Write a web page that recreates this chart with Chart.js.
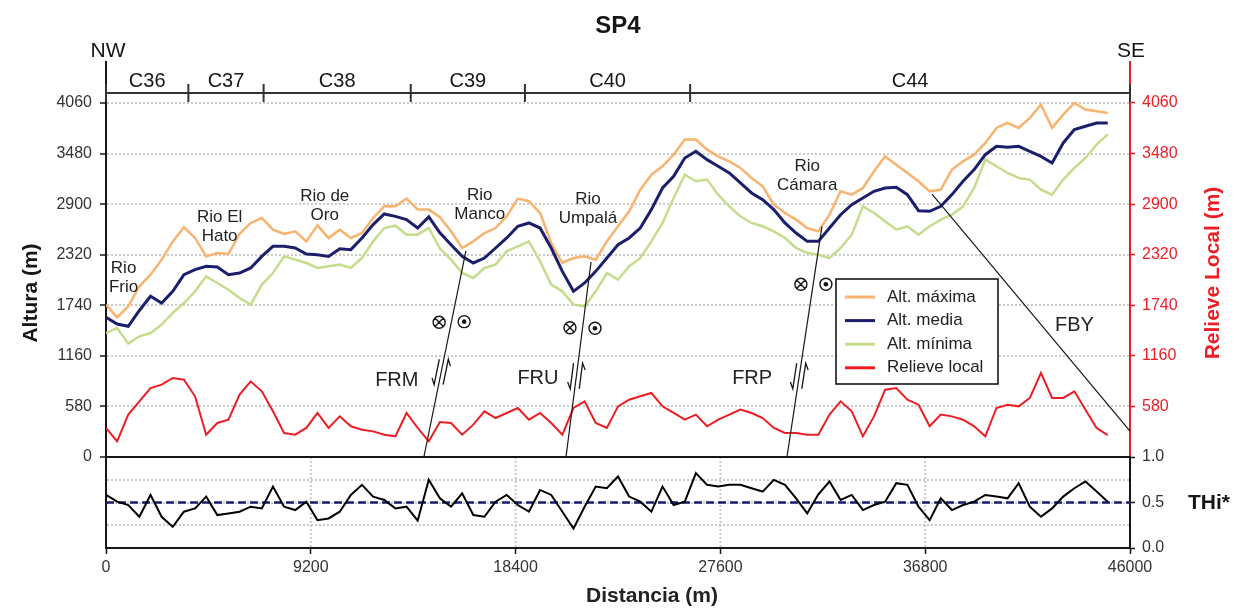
<!DOCTYPE html>
<html>
<head>
<meta charset="utf-8">
<script src="https://cdn.jsdelivr.net/npm/chart.js@4.4.0/dist/chart.umd.min.js"></script>
<style>
  html, body { margin: 0; padding: 0; background: #fff; }
  #wrap { width: 1234px; height: 608px; position: relative; }
</style>
</head>
<body>
<div id="wrap"><canvas id="perfil"></canvas></div>
<script>
// distancia a lo largo del perfil SP4 (m)
var distancia = [0,500,1000,1500,2000,2500,3000,3500,4000,4500,
  5000,5500,6000,6500,7000,7500,8000,8500,9000,9500,
  10000,10500,11000,11500,12000,12500,13000,13500,14000,14500,
  15000,15500,16000,16500,17000,17500,18000,18500,19000,19500,
  20000,20500,21000,21500,22000,22500,23000,23500,24000,24500,
  25000,25500,26000,26500,27000,27500,28000,28500,29000,29500,
  30000,30500,31000,31500,32000,32500,33000,33500,34000,34500,
  35000,35500,36000,36500,37000,37500,38000,38500,39000,39500,
  40000,40500,41000,41500,42000,42500,43000,43500,44000,44500,
  45000];

var altMaxima = [1747,1602,1728,1957,2091,2263,2473,2634,2512,2301,
  2340,2328,2558,2684,2741,2607,2558,2588,2473,2657,
  2512,2607,2512,2569,2741,2875,2875,2963,2837,2837,
  2750,2588,2397,2473,2569,2626,2760,2963,2933,2798,
  2454,2225,2282,2301,2263,2473,2646,2818,3066,3238,
  3334,3467,3640,3640,3525,3448,3391,3315,3200,3104,
  2894,2798,2722,2626,2588,2779,3047,3009,3085,3276,
  3448,3353,3257,3162,3047,3066,3296,3391,3467,3602,
  3774,3831,3774,3888,4041,3774,3927,4060,3984,3965,
  3946];

var altMedia = [1602,1525,1499,1680,1843,1766,1900,2091,2149,2187,
  2179,2091,2110,2168,2301,2416,2416,2397,2328,2320,
  2301,2389,2378,2512,2665,2787,2760,2722,2626,2753,
  2570,2435,2301,2225,2282,2397,2512,2646,2684,2626,
  2397,2129,1900,1996,2129,2282,2435,2512,2626,2837,
  3085,3219,3429,3506,3410,3334,3257,3143,3028,2951,
  2837,2684,2569,2473,2473,2626,2779,2894,2971,3047,
  3085,3093,3009,2825,2818,2875,3009,3162,3296,3467,
  3563,3552,3563,3506,3448,3372,3602,3755,3793,3831,
  3831];

var altMinima = [1422,1480,1300,1384,1422,1518,1652,1766,1900,2072,
  1996,1919,1824,1747,1977,2110,2301,2263,2225,2168,
  2187,2206,2168,2282,2473,2626,2653,2550,2550,2626,
  2390,2263,2110,2053,2168,2206,2359,2416,2473,2244,
  1977,1900,1747,1728,1900,2110,2034,2187,2282,2473,
  2684,2971,3238,3162,3181,3009,2875,2760,2684,2646,
  2588,2512,2397,2339,2320,2282,2397,2550,2875,2798,
  2703,2607,2646,2550,2646,2722,2779,2875,3085,3410,
  3334,3257,3200,3181,3066,3009,3181,3315,3429,3582,
  3700];

var relieveLocal = [333,180,486,638,791,830,906,887,696,256,
  390,428,715,868,753,524,275,256,333,505,
  333,466,352,313,294,256,237,505,333,180,
  400,390,256,371,524,447,505,562,428,505,
  390,256,562,638,390,333,581,657,696,734,
  581,505,428,486,352,428,486,543,505,447,
  333,275,275,256,256,486,638,524,237,466,
  772,791,657,600,352,486,466,428,352,237,
  562,600,581,677,963,677,677,753,543,333,
  250];

var thi = [0.583,0.509,0.472,0.343,0.583,0.343,0.232,0.399,0.435,0.565,
  0.362,0.380,0.399,0.454,0.435,0.675,0.454,0.417,0.509,0.306,
  0.325,0.399,0.583,0.694,0.565,0.528,0.435,0.454,0.300,0.749,
  0.546,0.454,0.601,0.362,0.343,0.509,0.583,0.472,0.399,0.638,
  0.583,0.399,0.214,0.454,0.675,0.657,0.786,0.565,0.509,0.399,
  0.675,0.472,0.509,0.823,0.694,0.675,0.694,0.694,0.657,0.620,
  0.749,0.694,0.546,0.380,0.590,0.731,0.528,0.583,0.417,0.472,
  0.509,0.712,0.694,0.454,0.306,0.546,0.417,0.472,0.509,0.583,
  0.565,0.546,0.712,0.454,0.343,0.435,0.565,0.657,0.731,0.620,
  0.509];

var thiMedio = 0.5;

var alturaTicks = [0,580,1160,1740,2320,2900,3480,4060];
var distTicks = [0,9200,18400,27600,36800,46000];
var thiTicks = [0,0.5,1];
var thiGrid = [0.25,0.5,0.75];

var segmentos = ['C36','C37','C38','C39','C40','C44'];
var limitesSegmentos = [0,3700,7080,13690,18820,26240,46000];

// anotaciones (posiciones en unidades de datos)
var rios = [
  { t: ['Rio', 'Frio'], d: 790, v: 2168 },
  { t: ['Rio El', 'Hato'], d: 5104, v: 2753 },
  { t: ['Rio de', 'Oro'], d: 9826, v: 2993 },
  { t: ['Rio', 'Manco'], d: 16792, v: 3005 },
  { t: ['Rio', 'Umpalá'], d: 21650, v: 2959 },
  { t: ['Rio', 'Cámara'], d: 31498, v: 3337 }
];
var fallas = [
  { n: 'FRM', a: [14280, 0], b: [16168, 2363], et: [13063, 883], fl: 975, cruz: [14965, 1545], punto: [16089, 1552] },
  { n: 'FRU', a: [20664, 0], b: [21788, 2236], et: [19403, 906], fl: 929, cruz: [20842, 1483], punto: [21966, 1476] },
  { n: 'FRP', a: [30590, 0], b: [32160, 2641], et: [29026, 906], fl: 929, cruz: [31215, 1981], punto: [32340, 1981] },
  { n: 'FBY', a: [37106, 3016], b: [46000, 298], et: [43505, 1514] }
];

var naranja = '#f8b36f', azul = '#1b1f6b', verde = '#c6dc8d', rojo = '#ee1d24';
var gris = '#c9c9c9', tinta = '#161616';
var fuente = 'Arial, "Liberation Sans", sans-serif';

Chart.defaults.font.family = fuente;
Chart.defaults.color = '#333';

function puntos(ys) {
  return distancia.map(function (d, i) { return { x: d, y: ys[i] }; });
}

function texto(ctx, s, x, y, font, color, align) {
  ctx.font = font;
  ctx.fillStyle = color || tinta;
  ctx.textAlign = align || 'center';
  ctx.textBaseline = 'middle';
  ctx.fillText(s, x, y);
}

function textoVertical(ctx, s, x, y, font, color) {
  ctx.save();
  ctx.translate(x, y);
  ctx.rotate(-Math.PI / 2);
  texto(ctx, s, 0, 0, font, color);
  ctx.restore();
}

var decor = {
  id: 'decor',
  beforeDatasetsDraw: function (chart) {
    var ctx = chart.ctx, sx = chart.scales.x, st = chart.scales.yT;
    ctx.save();
    ctx.strokeStyle = gris;
    ctx.lineWidth = 2;
    ctx.setLineDash([2, 2]);
    distTicks.forEach(function (d) {
      if (d === 0 || d === 46000) return;
      var x = sx.getPixelForValue(d);
      ctx.beginPath();
      ctx.moveTo(x, st.top);
      ctx.lineTo(x, st.bottom);
      ctx.stroke();
    });
    ctx.restore();
  },
  afterDatasetsDraw: function (chart) {
    var ctx = chart.ctx, a = chart.chartArea;
    var sx = chart.scales.x, sy = chart.scales.y;
    function P(d, v) { return [sx.getPixelForValue(d), sy.getPixelForValue(v)]; }

    ctx.save();
    // separacion entre paneles
    var y0 = sy.getPixelForValue(0);
    ctx.strokeStyle = tinta;
    ctx.lineWidth = 2;
    ctx.beginPath();
    ctx.moveTo(a.left, y0);
    ctx.lineTo(a.right, y0);
    ctx.stroke();

    // barra de segmentos
    var yb = a.top + 31;
    ctx.strokeStyle = '#333';
    ctx.lineWidth = 2;
    ctx.beginPath();
    ctx.moveTo(a.left, yb);
    ctx.lineTo(a.right, yb);
    limitesSegmentos.forEach(function (d) {
      var x = sx.getPixelForValue(d);
      ctx.moveTo(x, yb - 9);
      ctx.lineTo(x, yb + 9);
    });
    ctx.stroke();
    segmentos.forEach(function (s, i) {
      var xm = sx.getPixelForValue((limitesSegmentos[i] + limitesSegmentos[i + 1]) / 2);
      texto(ctx, s, xm, a.top + 19, '20px ' + fuente, tinta);
    });
    texto(ctx, 'NW', a.left + 2, a.top - 11, '21px ' + fuente, tinta);
    texto(ctx, 'SE', a.right + 1, a.top - 11, '21px ' + fuente, tinta);

    // rios
    rios.forEach(function (r) {
      var p = P(r.d, r.v);
      r.t.forEach(function (s, k) {
        texto(ctx, s, p[0], p[1] + k * 19, '17px ' + fuente, '#222');
      });
    });

    // fallas
    fallas.forEach(function (f) {
      var p0 = P(f.a[0], f.a[1]), p1 = P(f.b[0], f.b[1]);
      ctx.strokeStyle = tinta;
      ctx.lineWidth = 1.2;
      ctx.setLineDash([]);
      ctx.beginPath();
      ctx.moveTo(p0[0], p0[1]);
      ctx.lineTo(p1[0], p1[1]);
      ctx.stroke();
      var pe = P(f.et[0], f.et[1]);
      texto(ctx, f.n, pe[0], pe[1], '20px ' + fuente, '#222');
      if (f.fl !== undefined) {
        var yc = sy.getPixelForValue(f.fl);
        var t = (p0[1] - yc) / (p0[1] - p1[1]);
        var xc = p0[0] + (p1[0] - p0[0]) * t;
        var L = Math.hypot(p1[0] - p0[0], p1[1] - p0[1]);
        var ux = (p1[0] - p0[0]) / L, uy = (p1[1] - p0[1]) / L;
        var h = 13;
        ctx.lineWidth = 1.3;
        // izquierda: hacia abajo
        var ax = xc - 4.5;
        ctx.beginPath();
        ctx.moveTo(ax + ux * h, yc + uy * h);
        ctx.lineTo(ax - ux * h, yc - uy * h);
        ctx.lineTo(ax - ux * h + ux * 7 - 3.5, yc - uy * h + uy * 7);
        ctx.stroke();
        // derecha: hacia arriba
        var bx = xc + 4.5;
        ctx.beginPath();
        ctx.moveTo(bx - ux * h, yc - uy * h);
        ctx.lineTo(bx + ux * h, yc + uy * h);
        ctx.lineTo(bx + ux * h - ux * 7 + 3.5, yc + uy * h - uy * 7);
        ctx.stroke();
      }
      if (f.cruz) {
        var c = P(f.cruz[0], f.cruz[1]);
        ctx.lineWidth = 1.4;
        ctx.beginPath();
        ctx.arc(c[0], c[1], 6, 0, Math.PI * 2);
        ctx.moveTo(c[0] - 4.2, c[1] - 4.2); ctx.lineTo(c[0] + 4.2, c[1] + 4.2);
        ctx.moveTo(c[0] + 4.2, c[1] - 4.2); ctx.lineTo(c[0] - 4.2, c[1] + 4.2);
        ctx.stroke();
        var q = P(f.punto[0], f.punto[1]);
        ctx.beginPath();
        ctx.arc(q[0], q[1], 6, 0, Math.PI * 2);
        ctx.stroke();
        ctx.fillStyle = tinta;
        ctx.beginPath();
        ctx.arc(q[0], q[1], 2.3, 0, Math.PI * 2);
        ctx.fill();
      }
    });

    // leyenda
    var lx = 836, ly = 279, lw = 162, lh = 105;
    ctx.fillStyle = '#fff';
    ctx.fillRect(lx, ly, lw, lh);
    ctx.strokeStyle = tinta;
    ctx.lineWidth = 1.6;
    ctx.strokeRect(lx, ly, lw, lh);
    [0, 1, 2, 3].forEach(function (i, k) {
      var ds = chart.data.datasets[i];
      var yy = ly + 18 + k * 23.6;
      ctx.strokeStyle = ds.borderColor;
      ctx.lineWidth = 3;
      ctx.beginPath();
      ctx.moveTo(lx + 9, yy);
      ctx.lineTo(lx + 39, yy);
      ctx.stroke();
      texto(ctx, ds.label, lx + 51, yy, '17px ' + fuente, '#222', 'left');
    });

    // titulos
    texto(ctx, 'SP4', 618, 26, 'bold 24px ' + fuente, tinta);
    texto(ctx, 'Distancia (m)', 652, 596, 'bold 21px ' + fuente, '#222');
    texto(ctx, 'THi*', 1209, 503, 'bold 21px ' + fuente, tinta);
    textoVertical(ctx, 'Altura (m)', 31, 293, 'bold 21px ' + fuente, tinta);
    textoVertical(ctx, 'Relieve Local (m)', 1213, 273, 'bold 21px ' + fuente, rojo);
    ctx.restore();
  }
};

function fijarTicks(lista) {
  return function (s) { s.ticks = lista.map(function (v) { return { value: v }; }); };
}

new Chart(document.getElementById('perfil'), {
  type: 'line',
  data: {
    datasets: [
      { label: 'Alt. máxima', data: puntos(altMaxima), borderColor: naranja, borderWidth: 2.5, yAxisID: 'y', order: 2 },
      { label: 'Alt. media', data: puntos(altMedia), borderColor: azul, borderWidth: 3, yAxisID: 'y', order: 0 },
      { label: 'Alt. mínima', data: puntos(altMinima), borderColor: verde, borderWidth: 2.5, yAxisID: 'y', order: 1 },
      { label: 'Relieve local', data: puntos(relieveLocal), borderColor: rojo, borderWidth: 2, yAxisID: 'yR', order: 3 },
      { label: 'THi*', data: puntos(thi), borderColor: '#000', borderWidth: 2, yAxisID: 'yT', order: 4 },
      { label: 'THi medio', data: [{ x: 0, y: thiMedio }, { x: 46000, y: thiMedio }], borderColor: azul, borderWidth: 2.5, borderDash: [8, 4], yAxisID: 'yT', order: 5 }
    ]
  },
  options: {
    responsive: true,
    maintainAspectRatio: false,
    animation: false,
    elements: { point: { radius: 0 }, line: { tension: 0, fill: false } },
    layout: { padding: { top: 62, left: 0, right: 0, bottom: 0 } },
    plugins: { legend: { display: false }, tooltip: { enabled: false }, title: { display: false } },
    scales: {
      x: {
        type: 'linear', position: 'bottom', min: 0, max: 46000,
        afterBuildTicks: fijarTicks(distTicks),
        afterFit: function (s) { s.height = 60; },
        grid: { drawOnChartArea: false, tickLength: 6, tickColor: tinta, tickWidth: 1.5 },
        border: { color: tinta, width: 2 },
        ticks: { font: { size: 16 }, color: '#333', padding: 4, maxRotation: 0, autoSkip: false,
          callback: function (v) { return String(v); } }
      },
      // los ejes de la izquierda se apilan en orden inverso: el inferior va primero
      yT: {
        type: 'linear', position: 'left', stack: 'izq', stackWeight: 91, min: 0, max: 1,
        afterBuildTicks: fijarTicks(thiGrid),
        afterFit: function (s) { s.width = 106; },
        grid: { color: gris, lineWidth: 2, drawTicks: false },
        border: { color: tinta, width: 2, dash: [2, 2] },
        ticks: { display: false }
      },
      y: {
        type: 'linear', position: 'left', stack: 'izq', stackWeight: 395, min: 0, max: 4530,
        afterBuildTicks: fijarTicks(alturaTicks),
        afterFit: function (s) { s.width = 106; },
        grid: {
          color: function (c) { return c.tick && c.tick.value === 0 ? 'rgba(0,0,0,0)' : gris; },
          lineWidth: 2, tickLength: 6, tickColor: tinta, tickWidth: 1.5
        },
        border: { color: tinta, width: 2, dash: [2, 2] },
        ticks: { font: { size: 16 }, color: '#333', padding: 8, autoSkip: false,
          callback: function (v) { return String(v); } }
      },
      yR: {
        type: 'linear', position: 'right', stack: 'der', stackWeight: 395, min: 0, max: 4530,
        afterBuildTicks: fijarTicks(alturaTicks),
        afterFit: function (s) { s.width = 104; },
        grid: { drawOnChartArea: false, tickLength: 5,
          tickColor: function (c) { return c.tick && c.tick.value === 0 ? 'rgba(0,0,0,0)' : rojo; }, tickWidth: 1.5 },
        border: { color: rojo, width: 2 },
        ticks: { font: { size: 16 }, color: rojo, padding: 7, autoSkip: false,
          callback: function (v) { return v === 0 ? '' : String(v); } }
      },
      yTR: {
        type: 'linear', position: 'right', stack: 'der', stackWeight: 91, min: 0, max: 1,
        afterBuildTicks: fijarTicks(thiTicks),
        afterFit: function (s) { s.width = 104; },
        grid: { drawOnChartArea: false, tickLength: 5, tickColor: tinta, tickWidth: 1.5 },
        border: { color: tinta, width: 2 },
        ticks: { font: { size: 16 }, color: '#333', padding: 7, autoSkip: false,
          callback: function (v) { return v.toFixed(1); } }
      }
    }
  },
  plugins: [decor]
});
</script>
</body>
</html>
